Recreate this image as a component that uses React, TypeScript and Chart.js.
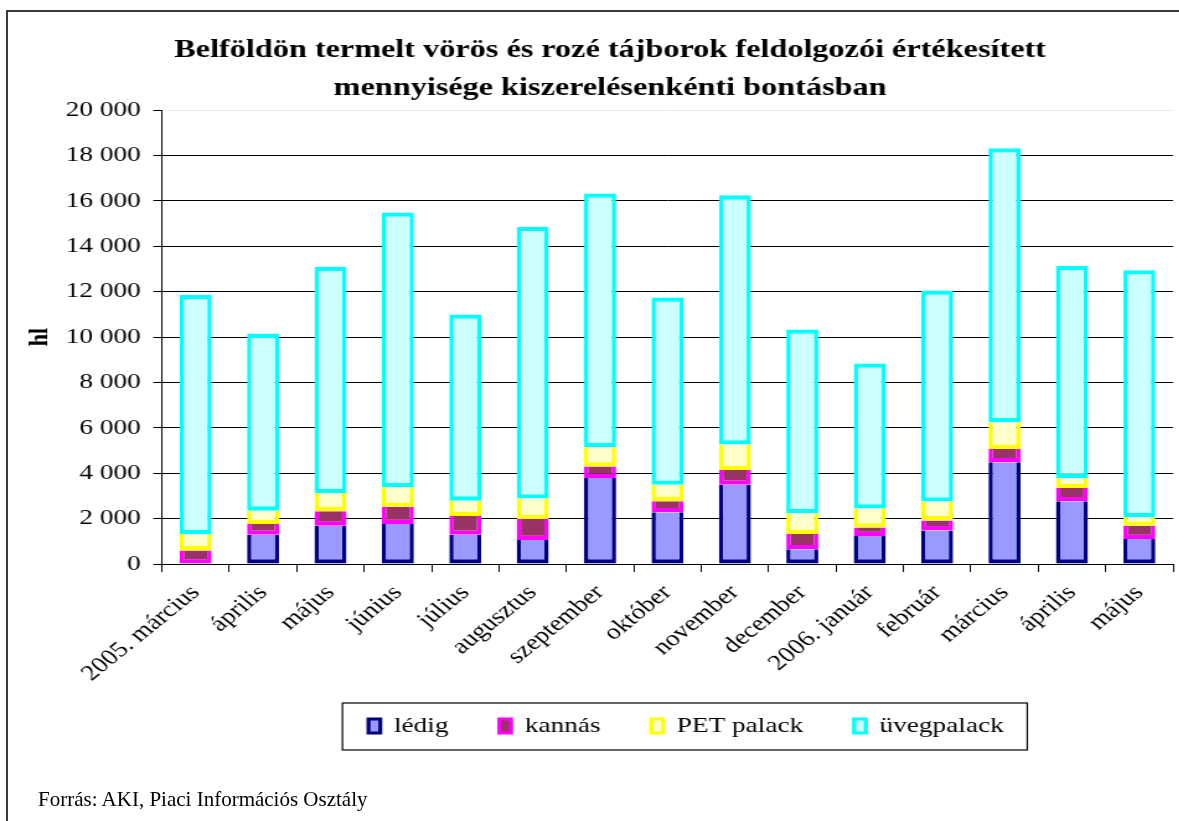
import React, { useEffect, useRef } from 'react';
import { Chart, registerables } from 'chart.js';

Chart.register(...registerables);

// ---- data ----
const categories = [
  '2005. március', 'április', 'május', 'június', 'július', 'augusztus', 'szeptember',
  'október', 'november', 'december', '2006. január', 'február', 'március', 'április', 'május',
];
const ledig = [0, 1290, 1690, 1760, 1290, 1060, 3790, 2280, 3490, 650, 1230, 1480, 4480, 2760, 1100];
const kannas = [600, 470, 630, 760, 820, 920, 500, 480, 650, 670, 380, 440, 590, 590, 590];
const petPalack = [720, 590, 810, 860, 680, 900, 850, 730, 1120, 920, 830, 830, 1170, 440, 370];
const uvegpalack = [10530, 7800, 9970, 12110, 8200, 11970, 11180, 8250, 10980, 8090, 6390, 9300, 12080, 9340, 10880];
const seriesNames = ['lédig', 'kannás', 'PET palack', 'üvegpalack'];
const titleLines = [
  'Belföldön termelt vörös és rozé tájborok feldolgozói értékesített',
  'mennyisége kiszerelésenkénti bontásban',
];
const yAxisTitle = 'hl';
const yMin = 0;
const yMax = 20000;
const yStep = 2000;
const sourceNote = 'Forrás: AKI, Piaci Információs Osztály';

// ---- styles / layout ----
const SERIF = "'Liberation Serif', 'Times New Roman', serif";
const SX = 1.24; // horizontal stretch of the original picture
const CW = 984;
const CH = 821;

const fmt = (v: number | string) =>
  String(Math.round(Number(v))).replace(/\B(?=(\d{3})+(?!\d))/g, ' ');

const legendFrame = {
  id: 'legendFrame',
  afterLayout(chart: any) {
    const lg = chart.legend;
    if (lg) {
      lg.left += 15;
      lg.right += 15;
    }
  },
  afterDraw(chart: any) {
    const lg = chart.legend;
    if (!lg || !lg.legendHitBoxes || !lg.legendHitBoxes.length) return;
    const hb = lg.legendHitBoxes;
    const first = hb[0];
    const last = hb[hb.length - 1];
    const cy = first.top + first.height / 2;
    const x1 = first.left - 21;
    const x2 = last.left + last.width + 19;
    const ctx = chart.ctx;
    ctx.save();
    ctx.strokeStyle = '#000';
    ctx.lineWidth = 1.2;
    ctx.strokeRect(x1, cy - 23, x2 - x1, 47);
    ctx.restore();
  },
};

const makeSet = (label: string, data: number[], bg: string, bd: string, isTop: boolean) => ({
  label,
  data,
  backgroundColor: bg,
  borderColor: bd,
  borderWidth: { left: 3.5, right: 3.5, bottom: 4.3, top: isTop ? 4.3 : 0 },
  borderSkipped: false as const,
  barPercentage: 0.475,
  categoryPercentage: 1,
});

export default function App() {
  const ref = useRef<HTMLCanvasElement>(null);

  useEffect(() => {
    if (!ref.current) return;
    const chart = new Chart(ref.current, {
      type: 'bar',
      data: {
        labels: categories,
        datasets: [
          makeSet(seriesNames[0], ledig, '#9999FF', '#000080', false),
          makeSet(seriesNames[1], kannas, '#993366', '#FF00FF', false),
          makeSet(seriesNames[2], petPalack, '#FFFFCC', '#FFFF00', false),
          makeSet(seriesNames[3], uvegpalack, '#CCFFFF', '#00FFFF', true),
        ] as any,
      },
      plugins: [legendFrame as any],
      options: {
        animation: false,
        responsive: false,
        devicePixelRatio: 1,
        layout: { padding: { left: 0, right: 0, top: 0, bottom: 74 } },
        plugins: {
          title: {
            display: true,
            text: titleLines,
            color: '#000',
            font: { family: SERIF, size: 26, weight: 'bold', lineHeight: 38 / 26 },
            padding: { top: 31, bottom: 3 },
          },
          legend: {
            display: true,
            position: 'bottom',
            fullSize: false,
            labels: {
              color: '#000',
              font: { family: SERIF, size: 22 },
              boxWidth: 9.5,
              boxHeight: 14,
              padding: 41,
              generateLabels: (c: any) =>
                (Chart as any).defaults.plugins.legend.labels
                  .generateLabels(c)
                  .map((l: any) => ({ ...l, lineWidth: 3.2 })),
            },
          },
          tooltip: { enabled: false },
        },
        scales: {
          x: {
            stacked: true,
            grid: { offset: true, drawOnChartArea: false, tickLength: 8, color: '#000', lineWidth: 1 },
            border: { color: '#000', width: 1 },
            ticks: {
              autoSkip: false,
              maxRotation: 45,
              minRotation: 45,
              color: '#000',
              font: { family: SERIF, size: 22 },
              padding: 8,
            },
            afterFit: (s: any) => {
              s.height = 110;
              // let the long rotated labels run below the axis box without clipping
              s._computeLabelArea = () => undefined;
            },
          },
          y: {
            stacked: true,
            min: yMin,
            max: yMax,
            ticks: {
              stepSize: yStep,
              color: '#000',
              font: { family: SERIF, size: 22 },
              padding: 10,
              callback: (v: any) => fmt(v),
            },
            grid: {
              color: (c: any) => (c.tick && c.tick.value === yMax ? '#ececec' : '#000'),
              tickColor: '#000',
              tickLength: 7,
              lineWidth: 1,
            },
            border: { color: '#000', width: 1 },
            title: {
              display: true,
              text: yAxisTitle,
              color: '#000',
              font: { family: SERIF, size: 22, weight: 'bold' },
              padding: { top: 18.8, bottom: 0 },
            },
            afterFit: (s: any) => {
              s.width = 130.6;
            },
          },
          yRight: {
            position: 'right',
            display: true,
            grid: { display: false },
            ticks: { display: false },
            border: { display: false },
            afterFit: (s: any) => {
              s.width = 38;
            },
          },
        },
      } as any,
    });
    return () => chart.destroy();
  }, []);

  return (
    <div
      style={{
        position: 'absolute',
        left: 0,
        top: 0,
        width: 1179,
        height: 821,
        overflow: 'hidden',
        background: '#fff',
      }}
    >
      <div
        style={{
          position: 'absolute',
          left: 6,
          top: 10,
          width: 1400,
          height: 1000,
          border: '2px solid #3a3a3a',
          boxSizing: 'border-box',
        }}
      />
      <div
        style={{
          position: 'absolute',
          left: 0,
          top: 0,
          width: CW,
          height: CH,
          transform: `scaleX(${SX})`,
          transformOrigin: '0 0',
        }}
      >
        <canvas ref={ref} width={CW} height={CH} style={{ display: 'block' }} />
      </div>
      <div
        style={{
          position: 'absolute',
          left: 38,
          top: 788,
          font: `21px ${SERIF}`,
          lineHeight: '22px',
          color: '#000',
          whiteSpace: 'nowrap',
        }}
      >
        {sourceNote}
      </div>
    </div>
  );
}
